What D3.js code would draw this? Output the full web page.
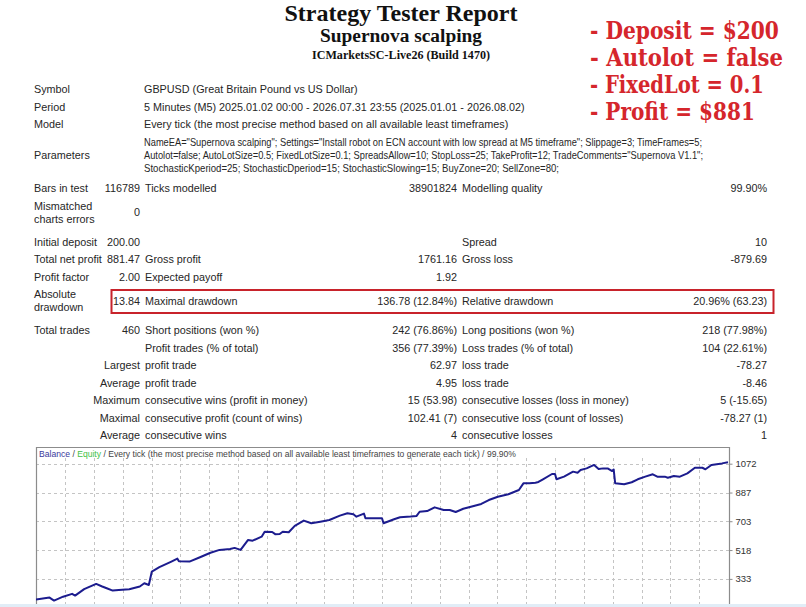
<!DOCTYPE html>
<html>
<head>
<meta charset="utf-8">
<script src="https://cdn.jsdelivr.net/npm/d3@7"></script>
<style>
  body { margin: 0; background: #fff; }
</style>
</head>
<body>
<div id="report"></div>
<script>
// report header
const titleLines = ["Strategy Tester Report", "Supernova scalping", "ICMarketsSC-Live26 (Build 1470)"];
const notes = ["- Deposit = $200", "- Autolot = false", "- FixedLot = 0.1", "- Profit = $881"];

// report table
const infoRows = [
  ["Symbol", "GBPUSD (Great Britain Pound vs US Dollar)"],
  ["Period", "5 Minutes (M5) 2025.01.02 00:00 - 2026.07.31 23:55 (2025.01.01 - 2026.08.02)"],
  ["Model", "Every tick (the most precise method based on all available least timeframes)"]
];
const paramLabel = "Parameters";
const paramLines = [
  'NameEA="Supernova scalping"; Settings="Install robot on ECN account with low spread at M5 timeframe"; Slippage=3; TimeFrames=5;',
  'Autolot=false; AutoLotSize=0.5; FixedLotSize=0.1; SpreadsAllow=10; StopLoss=25; TakeProfit=12; TradeComments="Supernova V1.1";',
  'StochasticKperiod=25; StochasticDperiod=15; StochasticSlowing=15; BuyZone=20; SellZone=80;'
];
const testRows = [
  ["Bars in test", "116789", "Ticks modelled", "38901824", "Modelling quality", "99.90%"],
  ["Mismatched\ncharts errors", "0", "", "", "", ""]
];
const resultRows = [
  ["Initial deposit", "200.00", "", "", "Spread", "10"],
  ["Total net profit", "881.47", "Gross profit", "1761.16", "Gross loss", "-879.69"],
  ["Profit factor", "2.00", "Expected payoff", "1.92", "", ""],
  ["Absolute\ndrawdown", "13.84", "Maximal drawdown", "136.78 (12.84%)", "Relative drawdown", "20.96% (63.23)"]
];
const tradeRows = [
  ["Total trades", "460", "Short positions (won %)", "242 (76.86%)", "Long positions (won %)", "218 (77.98%)"],
  ["", "", "Profit trades (% of total)", "356 (77.39%)", "Loss trades (% of total)", "104 (22.61%)"],
  ["", "Largest", "profit trade", "62.97", "loss trade", "-78.27"],
  ["", "Average", "profit trade", "4.95", "loss trade", "-8.46"],
  ["", "Maximum", "consecutive wins (profit in money)", "15 (53.98)", "consecutive losses (loss in money)", "5 (-15.65)"],
  ["", "Maximal", "consecutive profit (count of wins)", "102.41 (7)", "consecutive loss (count of losses)", "-78.27 (1)"],
  ["", "Average", "consecutive wins", "4", "consecutive losses", "1"]
];
const boxedLabel = "Absolute\ndrawdown";

// balance curve (trade number, balance)
const trades  = [0, 9, 12, 18, 24, 26, 32, 40, 44, 47, 51, 55, 62, 69, 72, 75, 77, 82, 90, 94,
                 95, 102, 109, 116, 122, 129, 132, 136, 141, 144, 150, 152, 157, 159, 162, 164, 168, 172, 178, 183,
                 189, 195, 202, 207, 211, 213, 218, 219, 230, 231, 238, 242, 249, 253, 255, 260, 265, 271, 275, 279,
                 284, 291, 296, 301, 307, 314, 321, 324, 328, 332, 334, 337, 343, 345, 346, 351, 357, 360, 362, 366,
                 371, 374, 377, 380, 383, 384, 385, 391, 396, 400, 405, 410, 413, 418, 420, 424, 428, 433, 438, 443,
                 445, 449, 456, 460];
const balance = [200, 213, 194, 219, 237, 226, 267, 301, 284, 273, 258, 262, 267, 284, 305, 294, 380, 408, 444, 463,
                 446, 444, 472, 501, 519, 525, 532, 519, 583, 578, 604, 636, 634, 620, 621, 636, 632, 673, 707, 690,
                 700, 711, 739, 754, 748, 732, 752, 722, 722, 690, 716, 728, 733, 737, 764, 768, 792, 775, 775, 762,
                 783, 801, 814, 839, 860, 876, 903, 946, 946, 950, 955, 972, 1006, 1006, 972, 989, 1021, 1014, 1032, 1042,
                 1064, 1038, 1042, 1042, 1025, 1035, 946, 940, 953, 972, 989, 1004, 989, 989, 982, 993, 989, 1010, 1046, 1046,
                 1036, 1064, 1074, 1081.47];
const yTicks = [333, 518, 703, 887, 1072];
const captionParts = ["Balance", " / ", "Equity", " / Every tick (the most precise method based on all available least timeframes to generate each tick) / 99.90%"];

const width = 806, height = 607;
const svg = d3.select("#report").append("svg")
  .attr("width", width)
  .attr("height", height)
  .style("display", "block");

// ---- header ----
const titleStyle = [
  { size: 24, y: 13, len: 233 },
  { size: 18, y: 36, len: 162 },
  { size: 13, y: 54, len: 178 }
];
svg.selectAll("text.title")
  .data(titleLines)
  .join("text")
  .attr("class", "title")
  .attr("x", 401)
  .attr("y", (d, i) => titleStyle[i].y)
  .attr("text-anchor", "middle")
  .attr("dominant-baseline", "central")
  .attr("textLength", (d, i) => titleStyle[i].len)
  .attr("lengthAdjust", "spacingAndGlyphs")
  .style("font-family", "'Liberation Serif', 'Times New Roman', serif")
  .style("font-weight", "bold")
  .style("font-size", (d, i) => titleStyle[i].size + "px")
  .style("fill", "#111")
  .text(d => d);

// red notes: squeezed horizontally with a transform so the box stays inside the page
const noteLen = [189, 193, 174, 165];
svg.selectAll("text.note")
  .data(notes)
  .join("text")
  .attr("class", "note")
  .attr("x", 0)
  .attr("y", 0)
  .attr("dominant-baseline", "central")
  .style("font-family", "'DejaVu Serif', serif")
  .style("font-weight", "bold")
  .style("font-size", "24px")
  .style("fill", "#d5262c")
  .text(d => d)
  .attr("transform", function (d, i) {
    const sx = noteLen[i] / this.getComputedTextLength();
    return `translate(590,${30 + i * 27.2}) scale(${sx},1)`;
  });

// ---- table ----
const table = svg.append("g")
  .style("font-family", "'Liberation Sans', Arial, sans-serif")
  .style("font-size", "10.8px")
  .style("fill", "#262626");

const lineGap = 13;
let yCur = 89;

infoRows.forEach(r => {
  table.append("text").attr("x", 34).attr("y", yCur).attr("dominant-baseline", "central").text(r[0]);
  table.append("text").attr("x", 144).attr("y", yCur).attr("dominant-baseline", "central").text(r[1]);
  yCur += 17.5;
});

table.append("text").attr("x", 34).attr("y", yCur + lineGap)
  .attr("dominant-baseline", "central").text(paramLabel);
const paramLen = [558, 559, 415];
paramLines.forEach((l, i) => {
  table.append("text").attr("x", 144).attr("y", yCur + i * lineGap)
    .attr("dominant-baseline", "central")
    .attr("textLength", paramLen[i])
    .attr("lengthAdjust", "spacingAndGlyphs")
    .text(l);
});
yCur += (paramLines.length - 1) * lineGap + 20.5;

// column x positions and anchors
const cols = [
  { x: 34, anchor: "start" },
  { x: 140, anchor: "end" },
  { x: 145, anchor: "start" },
  { x: 457, anchor: "end" },
  { x: 462, anchor: "start" },
  { x: 767, anchor: "end" }
];

let boxMid = null;
[testRows, resultRows, tradeRows].forEach((group, gi) => {
  if (gi > 0) yCur += 2;
  group.forEach(row => {
    const nLines = row[0] ? row[0].split("\n").length : 1;
    const mid = yCur + (nLines - 1) * lineGap / 2;
    row.forEach((cell, ci) => {
      if (!cell) return;
      if (ci === 0) {
        cell.split("\n").forEach((part, k) => {
          table.append("text").attr("x", cols[0].x).attr("y", yCur + k * lineGap)
            .attr("dominant-baseline", "central").text(part);
        });
      } else {
        table.append("text").attr("x", cols[ci].x).attr("y", mid)
          .attr("text-anchor", cols[ci].anchor)
          .attr("dominant-baseline", "central").text(cell);
      }
    });
    if (row[0] === boxedLabel) boxMid = mid;
    yCur += (nLines - 1) * lineGap + (nLines > 1 ? 21 : 17.5);
  });
});

// red box around the drawdown row
svg.append("rect")
  .attr("x", 111.5)
  .attr("y", boxMid - 10.5)
  .attr("width", 662)
  .attr("height", 23)
  .attr("fill", "none")
  .attr("stroke", "#c8232b")
  .attr("stroke-width", 2);

// ---- balance graph ----
const frame = { left: 36, right: 729, top: 447, bottom: 604 };

const x = d3.scaleLinear().domain([0, 460]).range([frame.left, 728]);
const y = d3.scaleLinear().domain([333, 1072]).range([578.9, 463.7]);
const xGrid = d3.scaleLinear().domain([0, 24]).range([36.2, 728.1]);

svg.append("rect")
  .attr("x", 0).attr("y", frame.bottom)
  .attr("width", width).attr("height", height - frame.bottom)
  .attr("fill", "#e1edf7");

const grid = svg.append("g")
  .attr("stroke", "#c4c4c4")
  .attr("stroke-width", 1)
  .attr("stroke-dasharray", "3,3");

grid.selectAll("line.v")
  .data(d3.range(1, 24))
  .join("line")
  .attr("class", "v")
  .attr("x1", d => Math.round(xGrid(d)) + 0.5)
  .attr("x2", d => Math.round(xGrid(d)) + 0.5)
  .attr("y1", frame.top + 11)
  .attr("y2", frame.bottom);

grid.selectAll("line.h")
  .data(yTicks)
  .join("line")
  .attr("class", "h")
  .attr("x1", frame.left)
  .attr("x2", frame.right)
  .attr("y1", d => Math.round(y(d)) + 0.5)
  .attr("y2", d => Math.round(y(d)) + 0.5);

// frame borders
svg.append("path")
  .attr("d", `M${frame.left + 0.5},${frame.bottom} V${frame.top + 0.5} H${frame.right + 0.5} V${frame.bottom}`)
  .attr("fill", "none")
  .attr("stroke", "#8c8c8c")
  .attr("stroke-width", 1.2);

svg.append("clipPath").attr("id", "plot-clip")
  .append("rect")
  .attr("x", frame.left).attr("y", frame.top)
  .attr("width", frame.right - frame.left + 2).attr("height", frame.bottom - frame.top);

const line = d3.line()
  .x((d, i) => x(trades[i]))
  .y(d => y(d));

svg.append("path")
  .datum(balance)
  .attr("clip-path", "url(#plot-clip)")
  .attr("fill", "none")
  .attr("stroke", "#1c1c8e")
  .attr("stroke-width", 2)
  .attr("stroke-linejoin", "round")
  .attr("d", line);

// caption
const captionColors = ["#3a3a9c", "#444", "#3fbf46", "#444"];
const caption = svg.append("text")
  .attr("x", 39)
  .attr("y", 453.5)
  .attr("dominant-baseline", "central")
  .attr("textLength", 477)
  .attr("lengthAdjust", "spacingAndGlyphs")
  .style("font-family", "'Liberation Sans', Arial, sans-serif")
  .style("font-size", "9px");
caption.selectAll("tspan")
  .data(captionParts)
  .join("tspan")
  .style("fill", (d, i) => captionColors[i])
  .text(d => d);

// right value axis
const axis = svg.append("g")
  .attr("transform", `translate(${frame.right + 0.5},0)`)
  .call(d3.axisRight(y).tickValues(yTicks).tickSize(3).tickPadding(3).tickFormat(d3.format("d")));
axis.select(".domain").remove();
axis.selectAll("line").attr("stroke", "#8c8c8c");
axis.selectAll("text")
  .style("font-family", "'Liberation Sans', Arial, sans-serif")
  .style("font-size", "9.5px")
  .style("fill", "#333");
</script>
</body>
</html>
